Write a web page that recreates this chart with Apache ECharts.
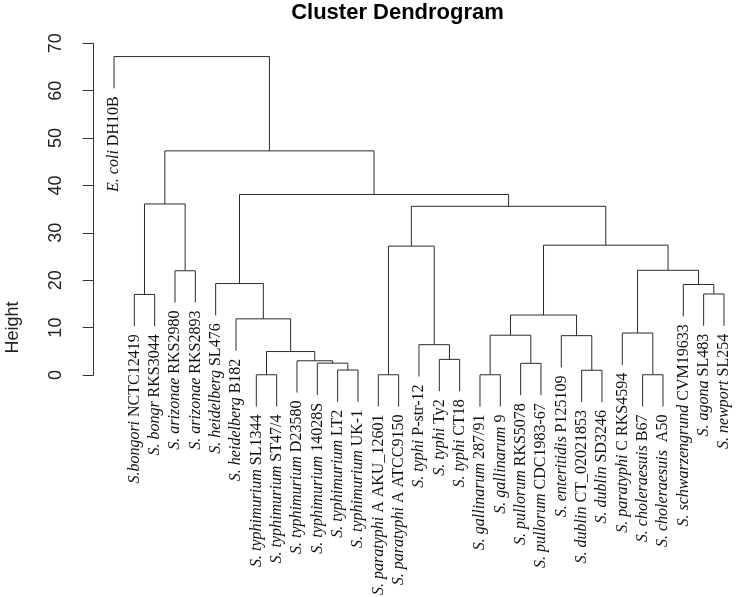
<!DOCTYPE html>
<html><head><meta charset="utf-8">
<script src="https://cdn.jsdelivr.net/npm/echarts@6/dist/echarts.min.js"></script>
<style>html,body{margin:0;padding:0;background:#fff}#c{width:737px;height:597px}</style>
</head><body><div id="c"></div>
<script>
const chartTitle = 'Cluster Dendrogram';
const yAxisName = 'Height';
const yTickMin = 0, yTickMax = 70, yTickStep = 10;

// leaves in plotted order (left to right)
const leafSpecies = ['E. coli','S.bongori','S. bongr','S. arizonae','S. arizonae','S. heidelberg','S. heidelberg',
  'S. typhimurium','S. typhimurium','S. typhimurium','S. typhimurium','S. typhimurium','S. typhimurium',
  'S. paratyphi','S. paratyphi','S. typhi','S. typhi','S. typhi','S. gallinarum','S. gallinarum',
  'S. pullorum','S. pullorum','S. enteritidis','S. dublin','S. dublin','S. paratyphi','S. choleraesuis',
  'S. choleraesuis','S. schwarzengrund','S. agona','S. newport'];
const leafStrain = ['DH10B','NCTC12419','RKS3044','RKS2980','RKS2893','SL476','B182',
  'SL1344','ST47/4','D23580','14028S','LT2','UK-1',
  'A AKU_12601','A ATCC9150','P-str-12','Ty2','CT18','287/91','9',
  'RKS5078','CDC1983-67','P125109','CT_02021853','SD3246','C RKS4594','B67',
  ' A50','CVM19633','SL483','SL254'];

// hclust-style merge table: negative = leaf position, positive = earlier merge (1-based)
const mergeLeft  = [-8,-14,-19,-27,-24,-12,-21,-11,-10,-17, 1,-16,-23, 3,-26,-7,14,-2,-30,-29,-6,-4,15, 2,17,24,18,21,27,-1];
const mergeRight = [-9,-15,-20,-28,-25,-13,-22,  6,  8,-18, 9, 10,  5, 7,  4,11,13,-3,-31, 19,16,-5,20,12,23,25,22,26,28,29];
const mergeHeight = [0.05,0.05,0.05,0.05,1.0,1.05,2.46,2.5,3.0,3.3,4.95,6.4,8.3,8.4,8.86,11.85,12.66,17.0,17.1,19.1,19.3,22.0,22.1,27.2,27.4,35.6,36.1,38.1,47.3,67.2];
const hangFraction = 0.1;

const n = leafSpecies.length;
const hang = hangFraction * (Math.max(...mergeHeight) - Math.min(...mergeHeight));
const mergeX = [];
const leafBottom = new Array(n);
const segData = [];
function childInfo(c, h) {
  if (c < 0) { const i = -c; leafBottom[i - 1] = h - hang; return [i, h - hang]; }
  return [mergeX[c - 1], mergeHeight[c - 1]];
}
for (let k = 0; k < mergeHeight.length; k++) {
  const h = mergeHeight[k];
  const a = childInfo(mergeLeft[k], h);
  const b = childInfo(mergeRight[k], h);
  mergeX.push((a[0] + b[0]) / 2);
  segData.push([a[0], a[1], b[0], b[1], h]);
}
const leafData = leafSpecies.map((s, i) => [i + 1, leafBottom[i], i]);

const chart = echarts.init(document.getElementById('c'));
chart.setOption({
  animation: false,
  backgroundColor: '#fff',
  grid: { left: 89.6, right: 4.9, top: 43.3, bottom: 222 },
  xAxis: { type: 'value', min: -0.2, max: 31.4, show: false },
  yAxis: {
    type: 'value', min: yTickMin, max: yTickMax, interval: yTickStep,
    axisLine: { show: true, lineStyle: { color: '#333', width: 1 } },
    axisTick: { show: true, length: 11, lineStyle: { color: '#333' } },
    splitLine: { show: false },
    axisLabel: { rotate: 90, margin: 25, fontSize: 18, color: '#222', fontFamily: 'Liberation Sans, Arial, sans-serif' }
  },
  graphic: [
    { type: 'text', x: 397.5, y: 13, style: { text: chartTitle, font: 'bold 22px "Liberation Sans", Arial, sans-serif', fill: '#000', align: 'center', verticalAlign: 'middle' } },
    { type: 'text', x: 13.5, y: 327.5, rotation: Math.PI / 2, style: { text: yAxisName, font: '18px "Liberation Sans", Arial, sans-serif', fill: '#222', align: 'center', verticalAlign: 'middle' } }
  ],
  series: [
    {
      type: 'custom', data: segData, clip: false,
      renderItem: function (params, api) {
        const p1 = api.coord([api.value(0), api.value(1)]);
        const p2 = api.coord([api.value(0), api.value(4)]);
        const p3 = api.coord([api.value(2), api.value(4)]);
        const p4 = api.coord([api.value(2), api.value(3)]);
        return { type: 'polyline', shape: { points: [p1, p2, p3, p4] }, style: { stroke: '#2b2b2b', lineWidth: 1, fill: null } };
      }
    },
    {
      type: 'custom', data: leafData, clip: false,
      renderItem: function (params, api) {
        const idx = api.value(2);
        const p = api.coord([api.value(0), api.value(1)]);
        return {
          type: 'text', x: p[0], y: p[1] + 8, rotation: Math.PI / 2,
          style: {
            text: '{i|' + leafSpecies[idx] + '} {n|' + leafStrain[idx] + '}',
            align: 'right', verticalAlign: 'middle', fill: '#111',
            font: '16px "Liberation Serif", "Times New Roman", serif',
            rich: {
              i: { fontStyle: 'italic', fontSize: 16, fontFamily: 'Liberation Serif', color: '#111' },
              n: { fontSize: 16, fontFamily: 'Liberation Serif', color: '#111' }
            }
          }
        };
      }
    }
  ]
});
</script></body></html>
